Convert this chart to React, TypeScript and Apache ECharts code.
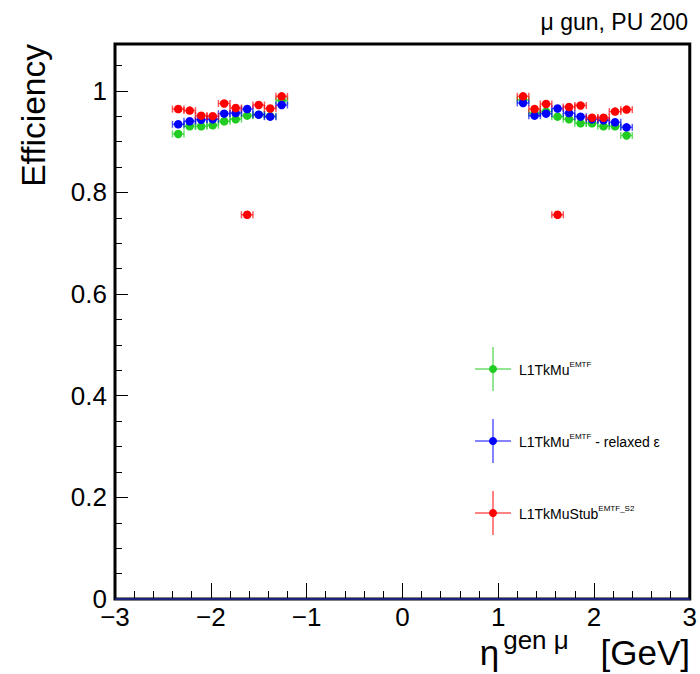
import React, { useEffect, useRef } from "react";
import * as echarts from "echarts";

// eta bin centres (generated muon pseudorapidity)
const ETA = [
  -2.34, -2.22, -2.1, -1.98, -1.86, -1.74, -1.62, -1.5, -1.38, -1.26,
  1.26, 1.38, 1.5, 1.62, 1.74, 1.86, 1.98, 2.1, 2.22, 2.34,
];
// L1TkMu^EMTF
const EFF_TKMU = [
  0.915, 0.93, 0.93, 0.932, 0.94, 0.944, 0.951, 0.953, 0.95, 0.981,
  0.982, 0.956, 0.959, 0.949, 0.944, 0.936, 0.936, 0.93, 0.93, 0.912,
];
// L1TkMu^EMTF - relaxed eps
const EFF_TKMU_RELAXED = [
  0.934, 0.94, 0.943, 0.944, 0.955, 0.956, 0.964, 0.953, 0.949, 0.972,
  0.976, 0.951, 0.955, 0.965, 0.956, 0.949, 0.944, 0.942, 0.938, 0.928,
];
// L1TkMuStub^EMTF_S2
const EFF_TKMUSTUB = [
  0.964, 0.961, 0.951, 0.95, 0.975, 0.966, 0.756, 0.972, 0.965, 0.989,
  0.989, 0.964, 0.974, 0.756, 0.968, 0.971, 0.947, 0.947, 0.959, 0.963,
];
const ETA_HALF_WIDTH = 0.06;
const EFF_ERR = 0.004;

const X_MIN = -3;
const X_MAX = 3;
const Y_MIN = 0;
const Y_MAX = 1.092;

const FONT = "'Liberation Sans', Arial, Helvetica, sans-serif";

const SERIES = [
  { name: "L1TkMu", sup: "EMTF", extra: "", values: EFF_TKMU, color: "#1fcc1f", bar: "rgba(31,204,31,0.65)" },
  { name: "L1TkMu", sup: "EMTF", extra: " - relaxed ε", values: EFF_TKMU_RELAXED, color: "#0000ff", bar: "rgba(0,0,255,0.65)" },
  { name: "L1TkMuStub", sup: "EMTF_S2", extra: "", values: EFF_TKMUSTUB, color: "#ff0000", bar: "rgba(255,0,0,0.65)" },
];

export default function App() {
  const ref = useRef<HTMLDivElement>(null);

  useEffect(() => {
    if (!ref.current) return;
    document.body.style.margin = "0";
    const chart = echarts.init(ref.current, undefined, { renderer: "svg" });

    const series: any[] = [];
    SERIES.forEach((s, si) => {
      const data = ETA.map((x, i) => [x, s.values[i]]);
      series.push({
        type: "custom",
        name: s.name + si + "err",
        data,
        encode: { x: 0, y: 1 },
        z: 3,
        renderItem: (params: any, api: any) => {
          const x = api.value(0);
          const y = api.value(1);
          const l = api.coord([x - ETA_HALF_WIDTH, y]);
          const r = api.coord([x + ETA_HALF_WIDTH, y]);
          const t = api.coord([x, y + EFF_ERR]);
          const b = api.coord([x, y - EFF_ERR]);
          const cap = 3.5;
          const st = { stroke: s.bar, lineWidth: 1.5 };
          return {
            type: "group",
            children: [
              { type: "line", shape: { x1: l[0], y1: l[1], x2: r[0], y2: r[1] }, style: st },
              { type: "line", shape: { x1: l[0], y1: l[1] - cap, x2: l[0], y2: l[1] + cap }, style: st },
              { type: "line", shape: { x1: r[0], y1: r[1] - cap, x2: r[0], y2: r[1] + cap }, style: st },
              { type: "line", shape: { x1: t[0], y1: t[1], x2: b[0], y2: b[1] }, style: st },
            ],
          };
        },
      });
      series.push({
        type: "scatter",
        name: s.name + si,
        data,
        symbol: "circle",
        symbolSize: 8.5,
        z: 3,
        itemStyle: { color: s.color, opacity: 1 },
      });
    });

    series.push({
      type: "line",
      data: [
        [X_MIN, 0],
        [X_MAX, 0],
      ],
      symbol: "none",
      z: 4,
      lineStyle: { color: "#1c237a", width: 2 },
    });

    const legendY = [369, 441, 513];
    const legend: any[] = [];
    SERIES.forEach((s, i) => {
      const y = legendY[i];
      legend.push(
        { type: "line", shape: { x1: 475, y1: y, x2: 511, y2: y }, style: { stroke: s.bar, lineWidth: 1.5 } },
        { type: "line", shape: { x1: 493, y1: y - 22, x2: 493, y2: y + 22 }, style: { stroke: s.bar, lineWidth: 1.5 } },
        { type: "circle", shape: { cx: 493, cy: y, r: 4 }, style: { fill: s.color } },
        {
          type: "text",
          x: 519,
          y: y + 1,
          style: {
            text: `{m|${s.name}}{s|${s.sup}}{m|${s.extra}}`,
            verticalAlign: "middle",
            align: "left",
            rich: {
              m: { fontSize: 14, fontFamily: FONT, fill: "#000", lineHeight: 20, verticalAlign: "middle" },
              s: { fontSize: 8, fontFamily: FONT, fill: "#000", lineHeight: 10, verticalAlign: "top" },
            },
          },
        }
      );
    });

    chart.setOption({
      animation: false,
      grid: {
        left: 115,
        right: 10,
        top: 44,
        bottom: 75,
        show: true,
        borderColor: "#000",
        borderWidth: 3,
        backgroundColor: "transparent",
      },
      xAxis: {
        type: "value",
        min: X_MIN,
        max: X_MAX,
        interval: 1,
        axisLine: { show: false, onZero: false },
        splitLine: { show: false },
        axisTick: { inside: true, length: 16, lineStyle: { color: "#000", width: 1 } },
        minorTick: { show: true, splitNumber: 5, length: 8, lineStyle: { color: "#000", width: 1 } },
        axisLabel: {
          margin: 5,
          fontSize: 26,
          fontFamily: FONT,
          color: "#000",
          formatter: (v: number) => (v < 0 ? "\u2212" + Math.abs(v) : String(v)),
        },
      },
      yAxis: [
        {
          type: "value",
          min: Y_MIN,
          max: Y_MAX,
          interval: 0.2,
          position: "left",
          axisLine: { show: false, onZero: false },
          splitLine: { show: false },
          axisTick: { inside: true, length: 13, lineStyle: { color: "#000", width: 1 } },
          axisLabel: {
            margin: 8,
            fontSize: 26,
            fontFamily: FONT,
            color: "#000",
            showMaxLabel: false,
            formatter: (v: number) => (Math.abs(v) < 1e-9 ? "0" : Math.abs(v - 1) < 1e-9 ? "1" : String(Math.round(v * 10) / 10)),
          },
        },
        {
          type: "value",
          min: Y_MIN,
          max: Y_MAX,
          interval: 0.05,
          position: "left",
          offset: 0,
          axisLine: { show: false, onZero: false },
          splitLine: { show: false },
          axisTick: { inside: true, length: 7, lineStyle: { color: "#000", width: 1 } },
          axisLabel: { show: false },
        },
      ],
      graphic: [
        {
          type: "text",
          right: 12,
          top: 10,
          style: { text: "μ gun, PU 200", fontSize: 23, fontFamily: FONT, fill: "#000" },
        },
        {
          type: "text",
          x: 33,
          y: 44,
          rotation: Math.PI / 2,
          style: { text: "Efficiency", fontSize: 33.5, fontFamily: FONT, fill: "#000", align: "right", verticalAlign: "middle" },
        },
        {
          type: "text",
          right: 10,
          top: 627,
          style: {
            text: "{m|η}{s|gen μ}{m| [GeV]}",
            rich: {
              m: { fontSize: 35, fontFamily: FONT, fill: "#000", lineHeight: 43, verticalAlign: "bottom" },
              s: { fontSize: 26, fontFamily: FONT, fill: "#000", lineHeight: 26, verticalAlign: "top", padding: [0, 22, 0, 4] },
            },
          },
        },
        ...legend,
      ],
      series,
    });

    return () => chart.dispose();
  }, []);

  return <div ref={ref} style={{ width: 700, height: 674 }} />;
}
